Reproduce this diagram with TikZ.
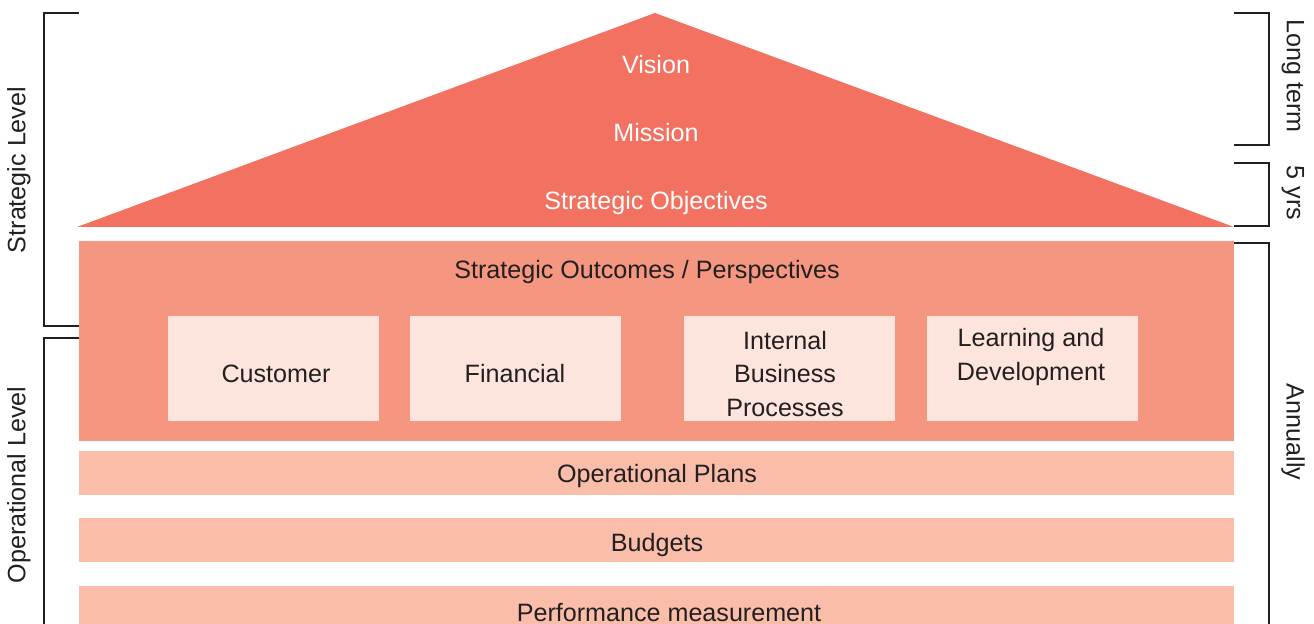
\documentclass[tikz,border=0pt]{standalone}
\usepackage{fontspec}
\setmainfont{Liberation Sans}
\definecolor{roofred}{HTML}{F37160}
\definecolor{coresalmon}{HTML}{F59680}
\definecolor{paleblush}{HTML}{FDE5DD}
\definecolor{bandpeach}{HTML}{F9BDAA}
\definecolor{inkgray}{HTML}{231F20}
\begin{document}
\begin{tikzpicture}[x=0.02cm, y=-0.02cm,
    font=\fontsize{14.3}{19.3}\selectfont, text=inkgray,
    core/.style={rectangle, fill=coresalmon, minimum width=23.1cm, minimum height=4cm, inner sep=0pt},
    pillar/.style={rectangle, fill=paleblush, minimum width=4.22cm, minimum height=2.1cm, inner sep=0pt},
    band/.style={rectangle, fill=bandpeach, minimum width=23.1cm, minimum height=0.88cm, inner sep=0pt},
    lbl/.style={inner sep=0pt, text=white},
    txt/.style={inner sep=0pt, align=center},
    brace/.style={draw=inkgray, line width=1.1pt}]

    \useasboundingbox (0,0) rectangle (1314,624);

    % dach
    \fill [roofred] (655,13) -- (1234,227) -- (77,227) -- cycle;
    \node (vision)     [lbl] at (656,65)  {Vision};
    \node (mission)    [lbl] at (656,133) {Mission};
    \node (objectives) [lbl] at (656,203) {Strategic Objectives};

    % perspektiven
    \node (core) [core] at (656.5,341) {};
    \node (outcomes) [txt] at (647,272) {Strategic Outcomes / Perspectives};
    \node (customer)  [pillar] at (273.5,368.5) {};
    \node (financial) [pillar] at (515.5,368.5) {};
    \node (internal)  [pillar] at (789.5,368.5) {};
    \node (learning)  [pillar] at (1032.5,368.5) {};
    \node (customertxt)  [txt] at (276,374)  {Customer};
    \node (financialtxt) [txt] at (515,374)  {Financial};
    \node (internaltxt)  [txt] at (785,374)  {Internal\\ Business\\ Processes};
    \node (learningtxt)  [txt] at (1031,357) {Learning and\\ Development};

    % operative ebene
    \node (plans)   [band] at (656.5,473) {};
    \node (budgets) [band] at (656.5,540) {};
    \node (perf)    [band, anchor=north] at (656.5,586) {};
    \node (planstxt)   [txt] at (657,476) {Operational Plans};
    \node (budgetstxt) [txt] at (657,545) {Budgets};
    \node (perftxt)    [txt] at (669,613) {Performance measurement};

    % klammern links
    \draw [brace] (79,13) -- (44,13) -- (44,326) -- (79,326);
    \draw [brace] (79,338) -- (44,338) -- (44,630);
    \node (strat) [txt, rotate=90] at (19,170) {Strategic Level};
    \node (oper)  [txt, rotate=90] at (19,485) {Operational Level};

    % klammern rechts
    \draw [brace] (1234,13) -- (1269,13) -- (1269,145) -- (1234,145);
    \draw [brace] (1234,163) -- (1269,163) -- (1269,226) -- (1234,226);
    \draw [brace] (1234,243) -- (1269,243) -- (1269,630);
    \node (longterm) [txt, rotate=-90] at (1293,76)  {Long term};
    \node (fiveyrs)  [txt, rotate=-90] at (1293,193) {5 yrs};
    \node (annual)   [txt, rotate=-90] at (1293,432) {Annually};
\end{tikzpicture}
\end{document}
